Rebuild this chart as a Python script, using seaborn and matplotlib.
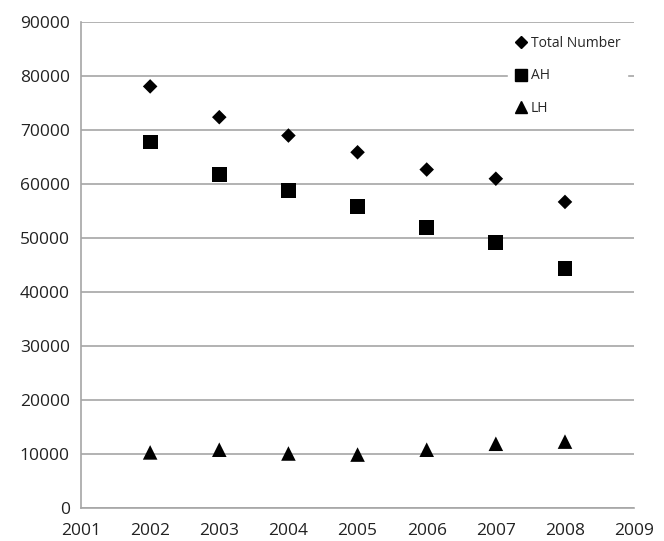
import matplotlib
matplotlib.use('Agg')
import matplotlib.pyplot as plt
from matplotlib.lines import Line2D
import pandas as pd
import seaborn as sns

#%% DATOS
years = [2002, 2003, 2004, 2005, 2006, 2007, 2008]
total_number = [78100, 72400, 69000, 65900, 62700, 61000, 56700]
ah = [67800, 61700, 58900, 55900, 52000, 49200, 44300]
lh = [10300, 10800, 10100, 9900, 10800, 11900, 12300]
series_names = ['Total Number', 'AH', 'LH']

df = pd.DataFrame({
    'year': years * 3,
    'value': total_number + ah + lh,
    'series': [s for s in series_names for _ in years],
})

#%% GRAFICO
sns.set_style('white')
plt.rcParams['font.family'] = ['Open Sans', 'DejaVu Sans']

fig = plt.figure(figsize=(6.64, 5.41), dpi=100)
ax = fig.add_axes([0.122, 0.061, 0.833, 0.898])

sns.scatterplot(data=df, x='year', y='value', style='series', size='series',
                markers={'Total Number': 'D', 'AH': 's', 'LH': '^'},
                sizes={'Total Number': 55, 'AH': 115, 'LH': 110},
                color='black', linewidth=0, ax=ax, legend=False)

ax.set_xlim(2001, 2009)
ax.set_ylim(0, 90000)
ax.set_xticks(range(2001, 2010))
ax.set_yticks(range(0, 90001, 10000))
ax.set_xlabel('')
ax.set_ylabel('')
ax.yaxis.grid(True, color='#a6a6a6', linewidth=1.2)
ax.set_axisbelow(True)
for side in ['top', 'right']:
    ax.spines[side].set_visible(False)
for side in ['left', 'bottom']:
    ax.spines[side].set_color('#a6a6a6')
    ax.spines[side].set_linewidth(1.2)
ax.tick_params(axis='both', which='major', labelsize=12.5, color='#a6a6a6',
               length=5, width=1.2, direction='out', pad=3, labelcolor='#222222')
ax.tick_params(axis='x', pad=6)

# leyenda
handles = [Line2D([], [], marker=m, color='black', linestyle='', markersize=ms)
           for m, ms in zip(['D', 's', '^'], [6, 8, 8])]
leg = ax.legend(handles, series_names, loc='upper right', bbox_to_anchor=(1.0, 1.0),
                frameon=True, fontsize=10, labelspacing=1.25, handletextpad=0.3,
                handlelength=0.8, borderpad=0.5)
leg.get_frame().set_facecolor('white')
leg.get_frame().set_edgecolor('white')
leg.get_frame().set_alpha(1)

plt.savefig('out.png', dpi=100)
